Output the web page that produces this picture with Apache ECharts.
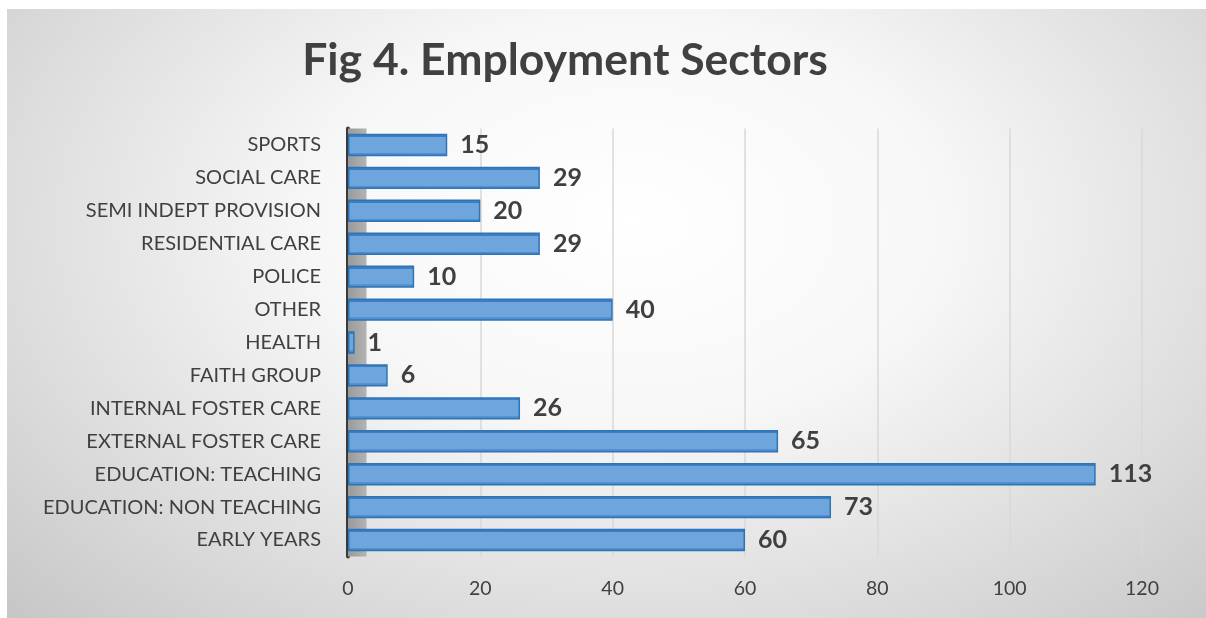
<!DOCTYPE html>
<html>
<head>
<meta charset="utf-8">
<script src="https://cdn.jsdelivr.net/npm/echarts@6/dist/echarts.min.js"></script>
<style>
  html, body { margin: 0; padding: 0; background: #ffffff; width: 1206px; height: 618px; overflow: hidden; }
  #chart {
    position: absolute; left: 7px; top: 9px; width: 1199px; height: 609px;
    background: radial-gradient(ellipse 75% 95% at 52% 35%, #ffffff 0%, #f7f7f7 35%, #dcdcdc 70%, #c4c4c4 100%);
  }
</style>
</head>
<body>
<div id="chart"></div>
<script>
const categories = [
  "EARLY YEARS", "EDUCATION: NON TEACHING", "EDUCATION: TEACHING",
  "EXTERNAL FOSTER CARE", "INTERNAL FOSTER CARE", "FAITH GROUP", "HEALTH",
  "OTHER", "POLICE", "RESIDENTIAL CARE", "SEMI INDEPT PROVISION",
  "SOCIAL CARE", "SPORTS"
];
const values = [60, 73, 113, 65, 26, 6, 1, 40, 10, 29, 20, 29, 15];
const titleText = "Fig 4. Employment Sectors";
const axisMax = 120;
const axisStep = 20;

const chart = echarts.init(document.getElementById('chart'), null, { renderer: 'canvas' });
chart.setOption({
  backgroundColor: 'transparent',
  animation: false,
  title: {
    text: titleText,
    left: 553, top: 24, textAlign: 'center',
    textStyle: { fontFamily: 'Lato', fontWeight: 'bold', fontSize: 44.5, color: '#404040' }
  },
  grid: { left: 341, right: 64, top: 119.5, bottom: 61.5, containLabel: false },
  xAxis: {
    type: 'value', min: 0, max: axisMax, interval: axisStep,
    axisLine: { show: false }, axisTick: { show: false },
    axisLabel: { fontFamily: 'Lato', fontSize: 19.5, color: '#404040', margin: 22 },
    splitLine: { lineStyle: { color: '#d9d9d9', width: 1.5 } }
  },
  yAxis: {
    type: 'category', data: categories,
    axisLine: { show: true, lineStyle: { color: '#3a3a3a', width: 4 } },
    axisTick: { show: false },
    axisLabel: { fontFamily: 'Lato', fontSize: 20, color: '#404040', margin: 27 }
  },
  series: [{
    type: 'bar', data: values, barWidth: '68%',
    itemStyle: {
      color: {
        type: 'linear', x: 0, y: 0, x2: 0, y2: 1,
        colorStops: [
          { offset: 0, color: '#3d7dc3' }, { offset: 0.14, color: '#3d7dc3' },
          { offset: 0.14, color: '#6ea5dc' }, { offset: 0.85, color: '#6ea5dc' },
          { offset: 0.85, color: '#5a95d2' }, { offset: 1, color: '#3d7dc3' }
        ]
      },
      borderColor: '#2e75b6', borderWidth: 1.5
    },
    label: {
      show: true, position: 'right', distance: 13,
      fontFamily: 'Lato', fontWeight: 'bold', fontSize: 25, color: '#404040'
    },
    markArea: {
      silent: true,
      itemStyle: {
        color: { type: 'linear', x: 0, y: 0, x2: 1, y2: 0,
          colorStops: [{ offset: 0, color: '#9a9a9a' }, { offset: 1, color: '#b3b3b3' }] }
      },
      data: [[{ xAxis: 0 }, { xAxis: 2.8 }]]
    },
    z: 3
  }]
});
</script>
</body>
</html>
